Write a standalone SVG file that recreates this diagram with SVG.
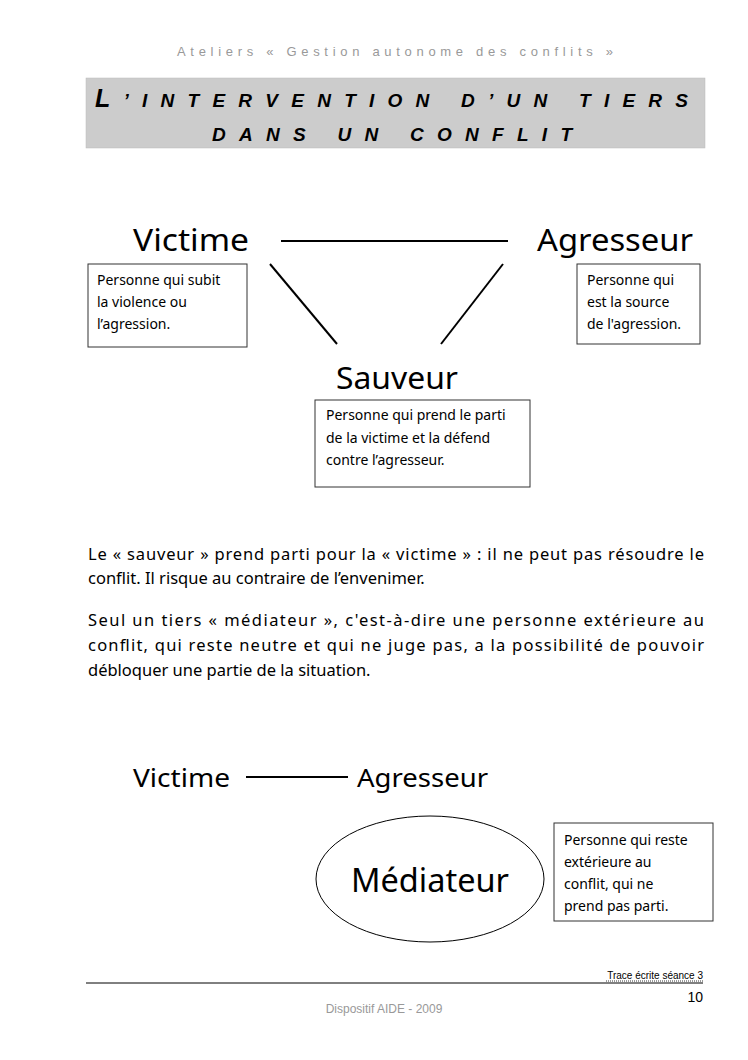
<svg xmlns="http://www.w3.org/2000/svg" width="748" height="1060" viewBox="0 0 748 1060">
<style>
.hand{font-family:"Noto Sans","DejaVu Sans",sans-serif;fill:#000}
.big{font-size:31px}
.small{font-size:14px}
.para{font-size:16.5px}
.box{fill:#fff;stroke:#333;stroke-width:1}
.conn{stroke:#000;stroke-width:2;fill:none}
.title{font-family:"Liberation Sans",Arial,sans-serif;font-weight:bold;font-style:italic;font-size:19px;fill:#000}
.gray{font-family:"Liberation Sans",Arial,sans-serif;fill:#999}
</style>
<rect width="748" height="1060" fill="#fff"/>
<text class="gray" x="177" y="56" font-size="13" textLength="436" lengthAdjust="spacing">Ateliers « Gestion autonome des conflits »</text>
<g id="title">
<rect x="86" y="78" width="619" height="70" fill="#cccccc" stroke="#bbb" stroke-width="0.5"/>
<text class="title" x="95" y="107" textLength="593" lengthAdjust="spacing"><tspan font-size="25">L</tspan>’INTERVENTION D’UN TIERS</text>
<text class="title" x="212" y="141" textLength="360" lengthAdjust="spacing">DANS UN CONFLIT</text>
</g>
<g id="connectors">
<line class="conn" x1="281" y1="241" x2="508" y2="241"/>
<line class="conn" x1="270" y1="264" x2="337" y2="344"/>
<line class="conn" x1="503" y1="264" x2="441" y2="344"/>
<line class="conn" x1="246" y1="777" x2="348" y2="777"/>
</g>
<g id="victime">
<text class="hand big" x="133" y="251" textLength="116" lengthAdjust="spacingAndGlyphs">Victime</text>
<rect class="box" x="88" y="264" width="159" height="83"/>
<text class="hand small" x="97" y="285">Personne qui subit</text>
<text class="hand small" x="97" y="307">la violence ou</text>
<text class="hand small" x="97" y="329">l’agression.</text>
</g>
<g id="agresseur">
<text class="hand big" x="537" y="251" textLength="156" lengthAdjust="spacingAndGlyphs">Agresseur</text>
<rect class="box" x="577" y="264" width="123" height="80"/>
<text class="hand small" x="587" y="285">Personne qui</text>
<text class="hand small" x="587" y="307">est la source</text>
<text class="hand small" x="587" y="329">de l'agression.</text>
</g>
<g id="sauveur">
<text class="hand big" x="336" y="389" textLength="122" lengthAdjust="spacingAndGlyphs">Sauveur</text>
<rect class="box" x="315" y="400" width="215" height="87"/>
<text class="hand small" x="326" y="420">Personne qui prend le parti</text>
<text class="hand small" x="326" y="443">de la victime et la défend</text>
<text class="hand small" x="326" y="465">contre l’agresseur.</text>
</g>
<g id="paragraph">
<text class="hand para" x="88" y="560" textLength="616" lengthAdjust="spacing">Le « sauveur » prend parti pour la « victime » : il ne peut pas résoudre le</text>
<text class="hand para" x="88" y="584">conflit. Il risque au contraire de l’envenimer.</text>
<text class="hand para" x="88" y="626" textLength="616" lengthAdjust="spacing">Seul un tiers « médiateur », c'est-à-dire une personne extérieure au</text>
<text class="hand para" x="88" y="651" textLength="616" lengthAdjust="spacing">conflit, qui reste neutre et qui ne juge pas, a la possibilité de pouvoir</text>
<text class="hand para" x="88" y="676">débloquer une partie de la situation.</text>
</g>
<g id="victime2">
<text class="hand" font-size="25" x="133" y="787" textLength="97" lengthAdjust="spacingAndGlyphs">Victime</text>
</g>
<g id="agresseur2">
<text class="hand" font-size="25" x="357" y="787" textLength="131" lengthAdjust="spacingAndGlyphs">Agresseur</text>
</g>
<g id="mediateur">
<ellipse cx="430" cy="879" rx="114" ry="63" fill="#fff" stroke="#000" stroke-width="1"/>
<text class="hand" font-size="33" x="430" y="892" text-anchor="middle" textLength="158" lengthAdjust="spacingAndGlyphs">Médiateur</text>
</g>
<g id="mediateur-note">
<rect class="box" x="554" y="823" width="159" height="98"/>
<text class="hand small" x="564" y="845">Personne qui reste</text>
<text class="hand small" x="564" y="867">extérieure au</text>
<text class="hand small" x="564" y="889">conflit, qui ne</text>
<text class="hand small" x="564" y="911">prend pas parti.</text>
</g>
<g id="footer">
<text font-family="'Liberation Sans',Arial,sans-serif" font-size="10" x="703" y="979" text-anchor="end" fill="#000">Trace écrite séance 3</text>
<line x1="606" y1="981" x2="703" y2="981" stroke="#000" stroke-width="0.8" stroke-dasharray="1,1"/>
<line x1="86" y1="983" x2="703" y2="983" stroke="#000" stroke-width="1"/>
<text font-family="'Liberation Sans',Arial,sans-serif" font-size="14" x="703" y="1002" text-anchor="end" fill="#000">10</text>
<text class="gray" font-size="12" x="384" y="1013" text-anchor="middle">Dispositif AIDE - 2009</text>
</g>
</svg>
